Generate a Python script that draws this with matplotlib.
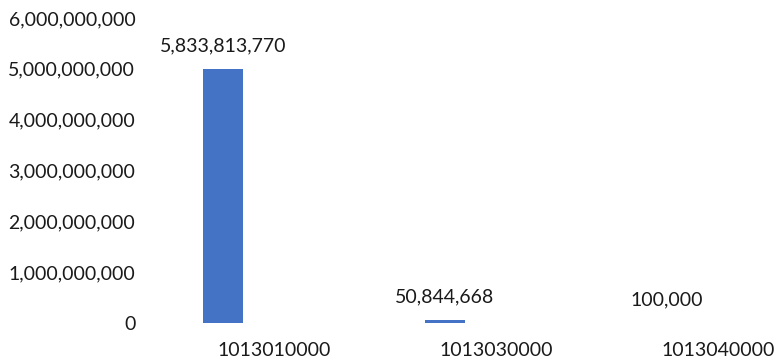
import matplotlib
matplotlib.use("Agg")
import matplotlib.pyplot as plt
import matplotlib.transforms as mtransforms
from matplotlib.ticker import FuncFormatter

# Data
categories = ["1013010000", "1013030000", "1013040000"]
bar_heights = [4.99e9, 50_844_668, 100_000]          # heights as drawn in the picture
value_labels = ["5,833,813,770", "50,844,668", "100,000"]  # labels printed above bars
y_ticks = [0, 1e9, 2e9, 3e9, 4e9, 5e9, 6e9]

plt.rcParams['font.family'] = ['Lato', 'DejaVu Sans']
text_color = "#1a1a1a"
bar_color = "#4472C4"

fig = plt.figure(figsize=(7.76, 3.63), dpi=100)
ax = fig.add_axes([145/776, 40/363, (776-145)/776, 305/363])

x = list(range(len(categories)))
ax.bar(x, bar_heights, width=0.18, color=bar_color)

ax.set_xlim(-0.351, 2.491)
ax.set_ylim(0, 6e9)
ax.set_yticks(y_ticks)
ax.yaxis.set_major_formatter(FuncFormatter(lambda v, p: f"{int(v):,}"))
ax.set_xticks(x)
ax.set_xticklabels(categories)

for s in ax.spines.values():
    s.set_visible(False)
ax.tick_params(axis='both', length=0, labelsize=14, colors=text_color)
ax.tick_params(axis='y', pad=7)
ax.tick_params(axis='x', pad=14)

offset = mtransforms.ScaledTranslation(51/100, 0, fig.dpi_scale_trans)
for lbl in ax.get_xticklabels():
    lbl.set_transform(lbl.get_transform() + offset)

for xi, h, t in zip(x, bar_heights, value_labels):
    ax.annotate(t, (xi, h), xytext=(0, 17), textcoords="offset points",
                ha="center", va="center", fontsize=14, color=text_color)

fig.savefig("out.png", dpi=100, facecolor="white")
